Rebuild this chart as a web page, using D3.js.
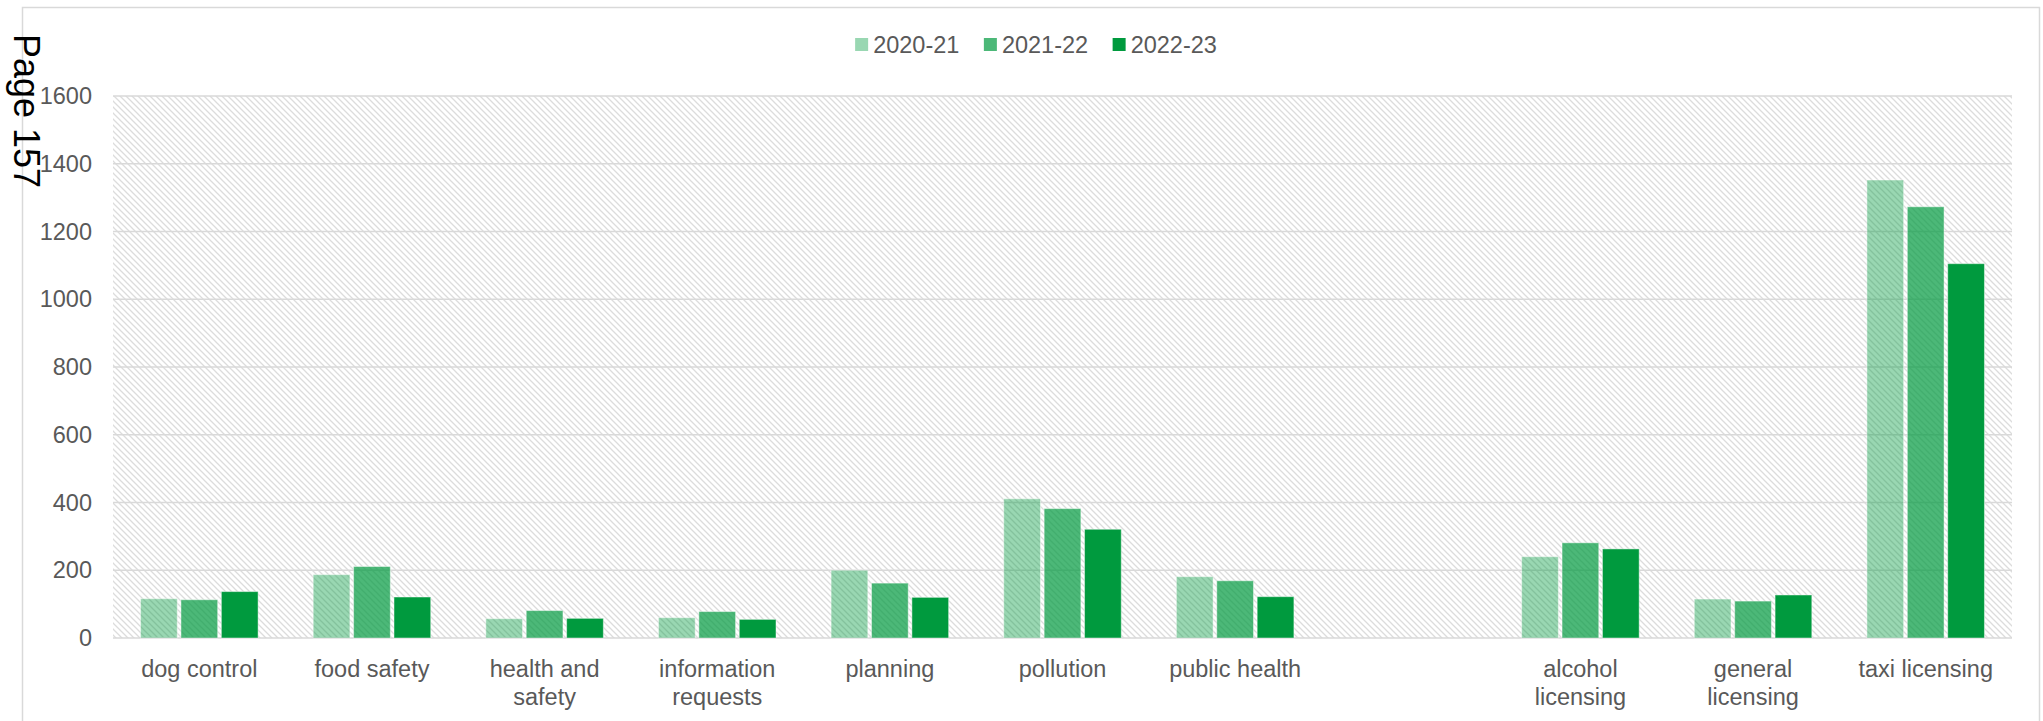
<!doctype html>
<html>
<head>
<meta charset="utf-8"/>
<title>Complaints by service</title>
<script src="https://d3js.org/d3.v7.min.js"></script>
<style>
body { margin:0; background:#fff; }
text { font-family:"Liberation Sans", Arial, sans-serif; }
</style>
</head>
<body>
<script type="text/javascript">
// data (blank slot between public health and alcohol licensing)
var categories = ["dog control","food safety","health and safety","information requests","planning",
                  "pollution","public health","","alcohol licensing","general licensing","taxi licensing"];
var seriesNames = ["2020-21","2021-22","2022-23"];
var v2020 = [116,187,57,60,200,411,181,null,240,115,1352];
var v2021 = [113,211,81,78,162,382,169,null,281,109,1273];
var v2022 = [137,121,58,55,120,321,122,null,263,127,1105];
var yTicks = [0,200,400,600,800,1000,1200,1400,1600];

var series = [v2020, v2021, v2022];
var opac = [0.4, 0.7, 1];
var green = "#009a3e";

var W = 2043, H = 721;
var pLeft = 113, pRight = 2012, pTop = 96, pBottom = 638;

var svg = d3.select("body").append("svg")
    .attr("width", W).attr("height", H);

// hatch pattern for plot background
var defs = svg.append("defs");
var pat = defs.append("pattern")
    .attr("id","hatch").attr("patternUnits","userSpaceOnUse")
    .attr("width",6).attr("height",6);
pat.append("rect").attr("width",6).attr("height",6).attr("fill","#fff");
pat.append("path")
    .attr("d","M-1,-1 L7,7 M-4,2 L1,7 M2,-4 L7,1")
    .attr("stroke","#dcdcdc").attr("stroke-width",1.3);

// chart border
svg.append("rect")
    .attr("x",22.5).attr("y",7.5).attr("width",2017).attr("height",740)
    .attr("fill","none").attr("stroke","#d9d9d9").attr("stroke-width",1.5);

var x = d3.scaleBand().domain(d3.range(categories.length)).range([pLeft,pRight]).padding(0);
var bw = x.bandwidth() / 4.7;
var xs = d3.scaleBand().domain([0,1,2]).range([0, 3.2*bw]).paddingInner(0.1/1.1);
var y = d3.scaleLinear().domain([0,1600]).range([pBottom, pTop]);

svg.append("rect")
    .attr("x",pLeft).attr("y",pTop).attr("width",pRight-pLeft).attr("height",pBottom-pTop)
    .attr("fill","url(#hatch)");

// gridlines
svg.append("g").selectAll("line").data(yTicks).enter().append("line")
    .attr("x1",pLeft).attr("x2",pRight)
    .attr("y1",function(d){return y(d);}).attr("y2",function(d){return y(d);})
    .attr("stroke","#d9d9d9").attr("stroke-width",1.5);

// y axis
var yAxis = svg.append("g").attr("transform","translate(" + (pLeft-21) + ",0)")
    .call(d3.axisLeft(y).tickValues(yTicks).tickFormat(d3.format("d")).tickSize(0).tickPadding(0));
yAxis.select(".domain").remove();
yAxis.selectAll("text").attr("fill","#595959").style("font-size","23.5px")
    .style("font-family","'Liberation Sans', Arial, sans-serif");

// bars
series.forEach(function(vals, s){
  svg.append("g").selectAll("rect")
    .data(vals.map(function(v,i){return {i:i, v:v};}).filter(function(d){return d.v != null;}))
    .enter().append("rect")
    .attr("x",function(d){return x(d.i) + (x.bandwidth() - 3.2*bw)/2 + xs(s);})
    .attr("y",function(d){return y(d.v);})
    .attr("width",xs.bandwidth())
    .attr("height",function(d){return y(0) - y(d.v);})
    .attr("fill",green).attr("fill-opacity",opac[s])
    .attr("stroke","#ffffff").attr("stroke-opacity",0.45).attr("stroke-width",1);
});

// category labels
var xAxis = svg.append("g").attr("transform","translate(0," + pBottom + ")")
    .call(d3.axisBottom(x).tickFormat(function(i){return categories[i];}).tickSize(0).tickPadding(0));
xAxis.select(".domain").remove();
xAxis.selectAll("text").attr("fill","#595959").style("font-size","23.5px")
    .style("font-family","'Liberation Sans', Arial, sans-serif")
    .attr("dy",null).attr("y",null)
    .each(function(){
      var t = d3.select(this), words = t.text().split(" "), lines = [], line = [];
      t.text(null);
      var tmp = t.append("tspan");
      words.forEach(function(w){
        line.push(w);
        tmp.text(line.join(" "));
        if (tmp.node().getComputedTextLength() > 160 && line.length > 1) {
          line.pop(); lines.push(line.join(" ")); line = [w];
        }
      });
      lines.push(line.join(" "));
      tmp.remove();
      lines.forEach(function(l, k){
        t.append("tspan").attr("x",0).attr("y", 39 + k*28).text(l);
      });
    });

// legend
var leg = svg.append("g");
var lx = 0;
seriesNames.forEach(function(n, s){
  var g = leg.append("g").attr("transform","translate(" + lx + ",0)");
  g.append("rect").attr("x",0).attr("y",38).attr("width",13).attr("height",13)
    .attr("fill",green).attr("fill-opacity",opac[s]);
  var t = g.append("text").attr("x",18).attr("y",53).attr("fill","#595959")
    .style("font-size","23.5px").text(n);
  lx += 18 + t.node().getComputedTextLength() + 24.5;
});
lx -= 24.5;
leg.attr("transform","translate(" + (1036 - lx/2) + ",0)");

// page stamp
svg.append("text")
    .attr("transform","translate(14,34) rotate(90)")
    .attr("fill","#000").style("font-size","36px")
    .text("Page 157");
</script>
</body>
</html>
